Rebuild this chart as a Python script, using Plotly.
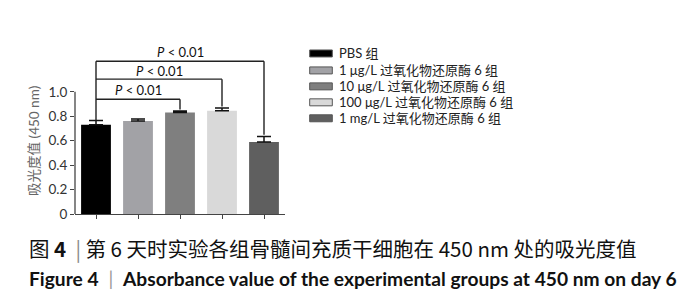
import plotly.graph_objects as go

# ---- data ----
groups = ["PBS 组", "1 μg/L 过氧化物还原酶 6 组", "10 μg/L 过氧化物还原酶 6 组",
          "100 μg/L 过氧化物还原酶 6 组", "1 mg/L 过氧化物还原酶 6 组"]
values = [0.73, 0.762, 0.830, 0.845, 0.59]
errors = [0.035, 0.015, 0.013, 0.022, 0.045]
colors = ["#000000", "#a2a2a6", "#7f7f7f", "#d9d9d9", "#5f5f5f"]
y_tickvals = [0, 0.2, 0.4, 0.6, 0.8, 1.0]
y_ticktext = ["0", "0.2", "0.4", "0.6", "0.8", "1.0"]
comparisons = [(0, 2, "<i>P</i> < 0.01"), (0, 3, "<i>P</i> < 0.01"), (0, 4, "<i>P</i> < 0.01")]
caption_cn = "图 <b>4</b>  <span style='color:#888'>|</span> 第 6 天时实验各组骨髓间充质干细胞在 450 nm 处的吸光度值"
caption_en = "<b>Figure 4</b>  <span style='color:#999'>|</span>  <b>Absorbance value of the experimental groups at 450 nm on day 6</b>"

W, H = 700, 294
L, R, T, B = 67, 423, 34.5, 88
FONT = "Lato, 'Noto Sans CJK SC', sans-serif"
CJK = "'Noto Sans CJK SC', sans-serif"

def px(x):
    return (x - L) / (W - L - R)

def py(y):
    return (H - B - y) / (H - T - B)

x_idx = list(range(len(groups)))
fig = go.Figure()
fig.add_trace(go.Bar(
    x=x_idx, y=values, width=0.71,
    marker=dict(color=colors, line=dict(width=0)),
    error_y=dict(type="data", symmetric=False, array=errors, arrayminus=[0]*len(errors),
                 color="#111", thickness=1.5, width=7),
    showlegend=False,
))

shapes = []
annotations = []
# y axis line only up to 1.0
shapes.append(dict(type="line", xref="paper", yref="y", x0=0, x1=0, y0=0, y1=1.0,
                   line=dict(color="#444", width=1.3)))

# significance brackets
levels = [0.939, 1.104, 1.251]
text_y = [1.015, 1.173, 1.328]
for (a, b, txt), lv, ty in zip(comparisons, levels, text_y):
    shapes.append(dict(type="line", xref="x", yref="y", x0=a, x1=b, y0=lv, y1=lv,
                       line=dict(color="#222", width=1.4)))
    shapes.append(dict(type="line", xref="x", yref="y", x0=b, x1=b, y0=lv,
                       y1=values[b] + errors[b] + 0.013, line=dict(color="#222", width=1.4)))
    annotations.append(dict(x=(a + b) / 2, y=ty, xref="x", yref="y", text=txt,
                            showarrow=False, font=dict(family=FONT, size=13, color="#111")))
shapes.append(dict(type="line", xref="x", yref="y", x0=0, x1=0,
                   y0=values[0] + errors[0], y1=levels[-1], line=dict(color="#222", width=1.4)))

# legend
rows = [45, 62, 78, 94, 110]
for g, c, ry in zip(groups, colors, rows):
    shapes.append(dict(type="rect", xref="paper", yref="paper",
                       x0=px(301.7), x1=px(324.3), y0=py(ry - 3.5), y1=py(ry + 3.5),
                       fillcolor=c, line=dict(color="#555", width=1)))
    annotations.append(dict(x=px(329), y=py(ry), xref="paper", yref="paper", text=g,
                            xanchor="left", yanchor="middle", showarrow=False,
                            font=dict(family=FONT, size=13, color="#222")))

# y axis title
annotations.append(dict(x=px(26.7), y=py(133), xref="paper", yref="paper",
                        text="吸光度值 (450 nm)", textangle=-90, showarrow=False,
                        xanchor="center", yanchor="middle",
                        font=dict(family=FONT, size=13.5, color="#666")))

# captions
annotations.append(dict(x=px(19), y=py(240), xref="paper", yref="paper", text=caption_cn,
                        xanchor="left", yanchor="middle", showarrow=False,
                        font=dict(family=CJK, size=20.5, color="#111")))
annotations.append(dict(x=px(19), y=py(271), xref="paper", yref="paper", text=caption_en,
                        xanchor="left", yanchor="middle", showarrow=False,
                        font=dict(family=FONT, size=19.2, color="#111")))

fig.update_layout(
    width=W, height=H, margin=dict(l=L, r=R, t=T, b=B),
    paper_bgcolor="white", plot_bgcolor="white",
    shapes=shapes, annotations=annotations,
    xaxis=dict(range=[-0.5, 4.5], tickvals=x_idx, ticktext=[""] * len(x_idx),
               showline=True, linecolor="#444", linewidth=1.3, ticks="outside",
               ticklen=4, tickcolor="#444", showgrid=False, zeroline=False, fixedrange=True),
    yaxis=dict(range=[0, 1.4], tickvals=y_tickvals, ticktext=y_ticktext,
               showline=False, ticks="outside", ticklen=4, tickcolor="#444",
               tickfont=dict(family=FONT, size=13.5, color="#333"),
               showgrid=False, zeroline=False, fixedrange=True),
)
fig.write_html("out.html")
